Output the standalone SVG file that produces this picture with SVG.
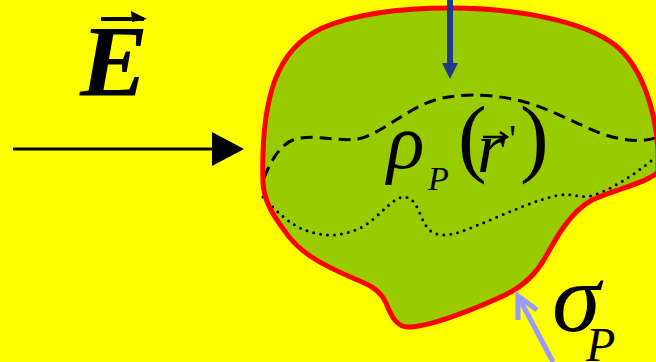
<svg xmlns="http://www.w3.org/2000/svg" width="656" height="362" viewBox="0 0 656 362">
<defs>
<style>
.m{font-family:'Liberation Serif','Times New Roman','DejaVu Serif',serif;font-style:italic;fill:#000}
.u{font-family:'Liberation Serif','Times New Roman','DejaVu Serif',serif;font-style:normal;fill:#000}
</style>
</defs>
<rect width="656" height="362" fill="#FFFF00"/>
<g id="body">
<path d="M263,183 C262,150 264,110 275,80 C285,55 298,40 322,28 C360,12 410,8 450,8 C520,8 585,22 615,45 C640,65 655,105 658,150 L658,172 C648,182 620,188 592,200 C570,212 556,238 545,258 C536,274 524,286 505,295 C475,309 432,326 410,327 C396,328 391,315 386,303 C380,290 370,285 355,279 C322,265 298,252 284,230 C272,214 264,200 263,183 Z" fill="#99CC00"/>
<path d="M264,178 C272,158 283,140 300,138 C322,135 342,143 362,138 C385,131 408,108 435,100 C455,94 485,93 517,100 C545,106 572,122 600,133 C622,141 642,143 658,137" fill="none" stroke="#000" stroke-width="3" stroke-dasharray="12 7"/>
<path d="M263,197 C275,210 290,225 305,230 C325,238 345,236 362,227 C380,217 393,196 405,197 C420,199 420,225 432,232 C446,240 465,230 483,223 C510,212 540,198 560,195 C575,193 582,200 597,194 C620,185 640,170 656,157" fill="none" stroke="#000" stroke-width="3" stroke-dasharray="0 7" stroke-linecap="round"/>
<path d="M263,183 C262,150 264,110 275,80 C285,55 298,40 322,28 C360,12 410,8 450,8 C520,8 585,22 615,45 C640,65 655,105 658,150 L658,172 C648,182 620,188 592,200 C570,212 556,238 545,258 C536,274 524,286 505,295 C475,309 432,326 410,327 C396,328 391,315 386,303 C380,290 370,285 355,279 C322,265 298,252 284,230 C272,214 264,200 263,183 Z" fill="none" stroke="#FF0000" stroke-width="5"/>
<text class="m" x="387" y="168" font-size="78">ρ</text>
<text class="m" x="428" y="190" font-size="34">P</text>
<text class="u" x="458" y="166" font-size="86">(</text>
<text class="m" x="477" y="172" font-size="72">r</text>
<text class="u" x="509" y="152" font-size="40">'</text>
<text class="u" x="520" y="166" font-size="86">)</text>
<path d="M483,137 L506,137 M500,132 L507,137 L500,141" fill="none" stroke="#000" stroke-width="2.5"/>
</g>
<g id="E-label">
<text class="m" x="80" y="96" font-size="102" font-weight="bold">E</text>
<path d="M101,19 L144,19" stroke="#000" stroke-width="4"/>
<path d="M131,11 L147,19 L132,22 Z" fill="#000"/>
</g>
<g id="sigma-label">
<text class="m" x="552" y="331" font-size="98">σ</text>
<text class="m" x="586" y="361" font-size="48">P</text>
</g>
<g id="connectors">
<line x1="13" y1="149" x2="214" y2="149" stroke="#000" stroke-width="3"/>
<path d="M212,132 L244,149 L212,166 Z" fill="#000"/>
<line x1="450" y1="0" x2="450" y2="64" stroke="#1F3A8A" stroke-width="6"/>
<path d="M442,63 L458,63 L450,79 Z" fill="#1F3A8A"/>
<line x1="553" y1="362" x2="519" y2="298" stroke="#9999FF" stroke-width="5"/>
<path d="M518,320 L518,296 L537,310" fill="none" stroke="#9999FF" stroke-width="5"/>
</g>
</svg>
